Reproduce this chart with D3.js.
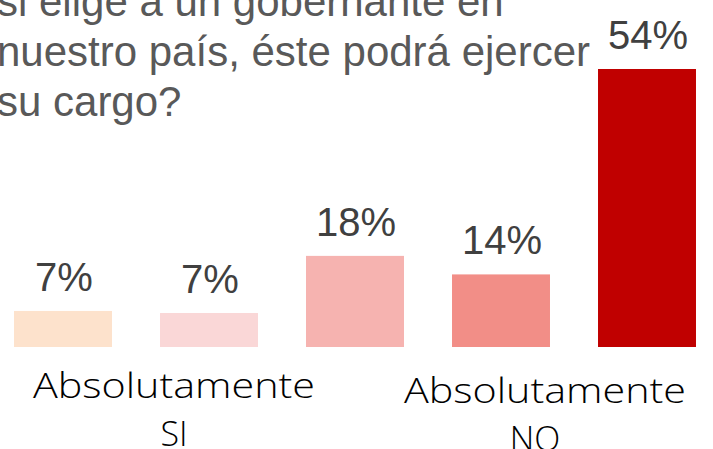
<!DOCTYPE html>
<meta charset="utf-8">
<style>
  body { margin: 0; background: #fff; }
</style>
<script src="https://d3js.org/d3.v7.min.js"></script>

<div id="chart"></div>
<script>

    // values
    var categories = ["c1", "c2", "c3", "c4", "c5"];
    var values = [7.0, 6.6, 17.7, 14.1, 54.0];
    var colors = ["#FDE2CC", "#FAD7D7", "#F6B3B0", "#F28E87", "#C00000"];
    var titleLines = ["si elige a un gobernante en", "nuestro país, éste podrá ejercer", "su cargo?"];
    var endLabels = [["Absolutamente", "SI"], ["Absolutamente", "NO"]];

    var width = 713,
        height = 449;

    var svg = d3.select("#chart")
      .append("svg")
        .attr("width", width)
        .attr("height", height);

    var x = d3.scaleBand()
        .domain(categories)
        .range([-10, 720])
        .paddingInner(0.329)
        .paddingOuter(0.1645);

    var y = d3.scaleLinear()
        .domain([0, d3.max(values)])
        .range([347, 69]);

    var data = categories.map(function(c, i) { return {cat: c, value: values[i], color: colors[i]}; });

    // title text (cut at top/left like the original slide)
    svg.append("text")
        .attr("font-family", "Liberation Sans, Arial, sans-serif")
        .attr("font-size", "42px")
        .attr("fill", "#595959")
      .selectAll("tspan")
      .data(titleLines)
      .enter()
      .append("tspan")
        .attr("x", -3)
        .attr("y", function(d, i) { return 16 + i * 50; })
        .text(function(d) { return d; });

    svg.append("g")
      .selectAll("rect")
      .data(data)
      .enter()
      .append("rect")
        .attr("x", function(d) { return x(d.cat); })
        .attr("y", function(d) { return y(d.value); })
        .attr("width", x.bandwidth())
        .attr("height", function(d) { return y(0) - y(d.value); })
        .style("fill", function(d) { return d.color; });

    svg.append("g")
      .selectAll("text")
      .data(data)
      .enter()
      .append("text")
        .attr("x", function(d) { return x(d.cat) + x.bandwidth() / 2 + 1; })
        .attr("y", function(d) { return y(d.value) - 20; })
        .attr("text-anchor", "middle")
        .attr("font-family", "Liberation Sans, Arial, sans-serif")
        .attr("font-size", "40px")
        .attr("fill", "#404040")
        .text(function(d) { return Math.round(d.value) + "%"; });

    // end labels under the bars
    var labelPos = [{cx: 174, y: 398}, {cx: 545, y: 403}];
    endLabels.forEach(function(lines, i) {
      var t = svg.append("text")
          .attr("text-anchor", "middle")
          .attr("font-family", "Open Sans, sans-serif")
          .attr("font-weight", 300)
          .attr("font-size", "34px")
          .attr("fill", "#000");
      t.append("tspan")
          .attr("x", labelPos[i].cx)
          .attr("y", labelPos[i].y)
          .attr("textLength", 282)
          .attr("lengthAdjust", "spacingAndGlyphs")
          .text(lines[0]);
      t.append("tspan")
          .attr("x", labelPos[i].cx - (i == 1 ? 10 : 0))
          .attr("y", labelPos[i].y + 48)
          .text(lines[1]);
    });

</script>
